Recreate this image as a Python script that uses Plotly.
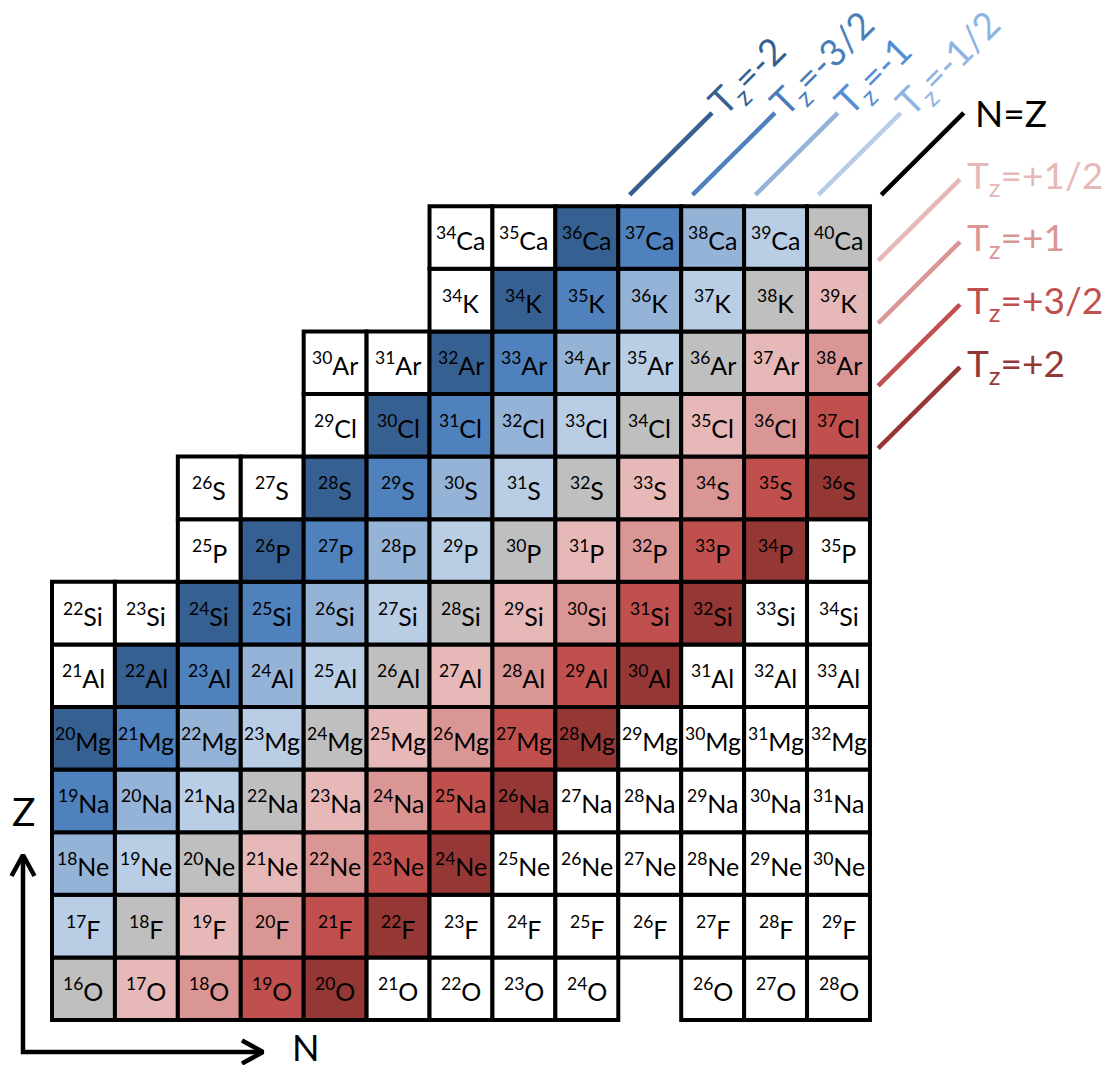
import math
import plotly.graph_objects as go

# ---------------- data ----------------
elements = ["O", "F", "Ne", "Na", "Mg", "Al", "Si", "P", "S", "Cl", "Ar", "K", "Ca"]
proton_numbers = [8, 9, 10, 11, 12, 13, 14, 15, 16, 17, 18, 19, 20]
neutron_numbers = [8, 9, 10, 11, 12, 13, 14, 15, 16, 17, 18, 19, 20]

# mass numbers as printed in each row (None = no cell drawn)
mass_O = [16, 17, 18, 19, 20, 21, 22, 23, 24, None, 26, 27, 28]
mass_F = [17, 18, 19, 20, 21, 22, 23, 24, 25, 26, 27, 28, 29]
mass_Ne = [18, 19, 20, 21, 22, 23, 24, 25, 26, 27, 28, 29, 30]
mass_Na = [19, 20, 21, 22, 23, 24, 25, 26, 27, 28, 29, 30, 31]
mass_Mg = [20, 21, 22, 23, 24, 25, 26, 27, 28, 29, 30, 31, 32]
mass_Al = [21, 22, 23, 24, 25, 26, 27, 28, 29, 30, 31, 32, 33]
mass_Si = [22, 23, 24, 25, 26, 27, 28, 29, 30, 31, 32, 33, 34]
mass_P = [None, None, 25, 26, 27, 28, 29, 30, 31, 32, 33, 34, 35]
mass_S = [None, None, 26, 27, 28, 29, 30, 31, 32, 33, 34, 35, 36]
mass_Cl = [None, None, None, None, 29, 30, 31, 32, 33, 34, 35, 36, 37]
mass_Ar = [None, None, None, None, 30, 31, 32, 33, 34, 35, 36, 37, 38]
mass_K = [None, None, None, None, None, None, 34, 34, 35, 36, 37, 38, 39]
mass_Ca = [None, None, None, None, None, None, 34, 35, 36, 37, 38, 39, 40]
mass_rows = [mass_O, mass_F, mass_Ne, mass_Na, mass_Mg, mass_Al, mass_Si,
             mass_P, mass_S, mass_Cl, mass_Ar, mass_K, mass_Ca]

# isospin projection Tz = (N - Z)/2 -> colour
tz_values = [-2, -1.5, -1, -0.5, 0, 0.5, 1, 1.5, 2]
tz_colors = ["#376092", "#4F81BD", "#95B3D7", "#B9CDE5", "#BFBFBF",
             "#E6B9B8", "#D99694", "#C0504D", "#953735"]
tz_text_colors = ["#376092", "#4A7EBB", "#558ED5", "#8EB4E3", "#000000",
                  "#E6B9B8", "#D99694", "#C0504D", "#953735"]
tz_labels = ["T<sub>z</sub>=-2", "T<sub>z</sub>=-3/2", "T<sub>z</sub>=-1",
             "T<sub>z</sub>=-1/2", "N=Z", "T<sub>z</sub>=+1/2", "T<sub>z</sub>=+1",
             "T<sub>z</sub>=+3/2", "T<sub>z</sub>=+2"]
label_plain = ["Tz=-2", "Tz=-3/2", "Tz=-1", "Tz=-1/2", "N=Z",
               "Tz=+1/2", "Tz=+1", "Tz=+3/2", "Tz=+2"]

# ---------------- geometry ----------------
W, H = 1105, 1065
GRID_LEFT_PX, GRID_BOTTOM_PX = 52, 1020
CELL_W_PX, CELL_H_PX = 62.92, 62.6
n_lo, z_lo = neutron_numbers[0] - 0.5, proton_numbers[0] - 0.5
n_hi, z_hi = neutron_numbers[-1] + 0.5, proton_numbers[-1] + 0.5
x_min = n_lo - GRID_LEFT_PX / CELL_W_PX
x_max = x_min + W / CELL_W_PX
y_min = z_lo - (H - GRID_BOTTOM_PX) / CELL_H_PX
y_max = y_min + H / CELL_H_PX

CELL_FONT = 25
LABEL_FONT = 37

fig = go.Figure()
shapes = []
annotations = []

color_of = {round(2 * t): c for t, c in zip(tz_values, tz_colors)}

for Z, el, masses in zip(proton_numbers, elements, mass_rows):
    for N, A in zip(neutron_numbers, masses):
        if A is None:
            continue
        fill = color_of.get(N - Z, "#FFFFFF")
        shapes.append(dict(type="rect", xref="x", yref="y",
                           x0=N - 0.5, x1=N + 0.5, y0=Z - 0.5, y1=Z + 0.5,
                           fillcolor=fill, line=dict(color="black", width=4),
                           layer="below"))
        annotations.append(dict(x=N, y=Z, xref="x", yref="y",
                                text=f"<sup>{A}</sup>{el}", showarrow=False,
                                font=dict(family="Lato", size=CELL_FONT, color="black"),
                                xanchor="center", yanchor="middle", yshift=-1))

# ---------------- isospin guide lines ----------------
char_w = {"T": 0.57, "z": 0.32, "=": 0.58, "-": 0.36, "+": 0.58, "/": 0.38,
          "N": 0.74, "Z": 0.62}
def text_len_px(s, size):
    return sum(char_w.get(ch, 0.58) for ch in s) * size

top_start, top_len = z_hi + 0.18, 1.31    # lines above the grid (Tz <= 0)
right_start, right_len = n_hi + 0.13, 1.30  # lines right of the grid (Tz > 0)

for t, lc, tc, lab, plain in zip(tz_values, tz_colors, tz_text_colors, tz_labels, label_plain):
    if t == 0:
        lc = "black"
    if t <= 0:
        y0 = top_start
        y1 = top_start + top_len
        x0, x1 = y0 + 2 * t, y1 + 2 * t
    else:
        x0 = right_start
        x1 = right_start + right_len
        y0, y1 = x0 - 2 * t, x1 - 2 * t
    fig.add_trace(go.Scatter(x=[x0, x1], y=[y0, y1], mode="lines",
                             line=dict(color=lc, width=4.5), hoverinfo="skip"))
    if t < 0:
        d = 6 + text_len_px(plain, LABEL_FONT) / 2
        cx = x1 + d / math.sqrt(2) / CELL_W_PX
        cy = y1 + d / math.sqrt(2) / CELL_H_PX
        annotations.append(dict(x=cx, y=cy, xref="x", yref="y", text=lab,
                                showarrow=False, textangle=-45,
                                font=dict(family="Lato", size=LABEL_FONT, color=tc),
                                xanchor="center", yanchor="middle"))
    else:
        gap = (9 if t == 0 else 5) / CELL_W_PX
        annotations.append(dict(x=x1 + gap, y=y1, xref="x", yref="y", text=lab,
                                showarrow=False,
                                font=dict(family="Lato", size=LABEL_FONT, color=tc),
                                xanchor="left", yanchor="middle",
                                yshift=0 if t == 0 else 2))

# ---------------- axis arrows ----------------
corner_x = n_lo - 29 / CELL_W_PX
corner_y = z_lo - 32 / CELL_H_PX
tip_y = z_lo + 165 / CELL_H_PX
tip_x = n_lo + 211 / CELL_W_PX
arm_along, arm_across = 21, 11.5
fig.add_trace(go.Scatter(x=[corner_x, corner_x, tip_x], y=[tip_y, corner_y, corner_y],
                         mode="lines", line=dict(color="black", width=4.5),
                         hoverinfo="skip"))
fig.add_trace(go.Scatter(
    x=[corner_x - arm_across / CELL_W_PX, corner_x, corner_x + arm_across / CELL_W_PX],
    y=[tip_y - arm_along / CELL_H_PX, tip_y, tip_y - arm_along / CELL_H_PX],
    mode="lines", line=dict(color="black", width=4.5), hoverinfo="skip"))
fig.add_trace(go.Scatter(
    x=[tip_x - arm_along / CELL_W_PX, tip_x, tip_x - arm_along / CELL_W_PX],
    y=[corner_y + arm_across / CELL_H_PX, corner_y, corner_y - arm_across / CELL_H_PX],
    mode="lines", line=dict(color="black", width=4.5), hoverinfo="skip"))

annotations.append(dict(x=corner_x, y=z_lo + 209 / CELL_H_PX, xref="x", yref="y",
                        text="Z", showarrow=False,
                        font=dict(family="Lato", size=39, color="black"),
                        xanchor="center", yanchor="middle"))
annotations.append(dict(x=n_lo + 254 / CELL_W_PX, y=z_lo - 27 / CELL_H_PX, xref="x", yref="y",
                        text="N", showarrow=False,
                        font=dict(family="Lato", size=36, color="black"),
                        xanchor="center", yanchor="middle"))

fig.update_layout(
    width=W, height=H,
    margin=dict(l=0, r=0, t=0, b=0),
    paper_bgcolor="white", plot_bgcolor="white",
    showlegend=False,
    shapes=shapes, annotations=annotations,
    xaxis=dict(range=[x_min, x_max], visible=False, fixedrange=True),
    yaxis=dict(range=[y_min, y_max], visible=False, fixedrange=True),
)

fig.write_html("out.html")
